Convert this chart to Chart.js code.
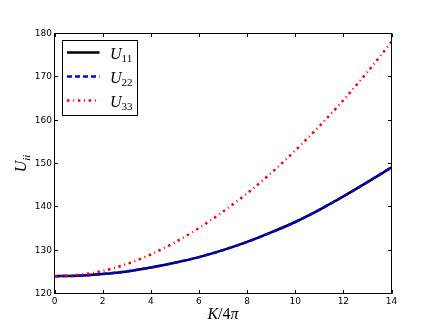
<!DOCTYPE html>
<html>
<head>
<meta charset="utf-8">
<script src="https://cdn.jsdelivr.net/npm/chart.js@4/dist/chart.umd.min.js"></script>
<style>
html,body{margin:0;padding:0;background:#fff;}
#wrap{width:436px;height:327px;position:relative;}
</style>
</head>
<body>
<div id="wrap"><canvas id="c" width="436" height="327"></canvas></div>
<script>
// ---- data ----
const kValues = [0, 1, 2, 3, 4, 5, 6, 7, 8, 9, 10, 11, 12, 13, 14];
const u11 = [124.0, 124.1, 124.5, 125.1, 126.0, 127.1, 128.4, 130.0, 131.9, 134.1, 136.5, 139.3, 142.4, 145.7, 149.1];
const u22 = [124.0, 124.1, 124.5, 125.1, 126.0, 127.1, 128.4, 130.0, 131.9, 134.1, 136.5, 139.3, 142.4, 145.7, 149.1];
const u33 = [124.0, 124.3, 125.2, 126.8, 129.0, 131.8, 135.1, 138.9, 143.1, 147.8, 153.0, 158.6, 164.6, 171.1, 178.1];
const xTicks = [0, 2, 4, 6, 8, 10, 12, 14];
const yTicks = [120, 130, 140, 150, 160, 170, 180];
const seriesNames = ["11", "22", "33"];
const xTitle = ["K", "/4", "π"];
const yTitle = ["U", "ii"];

const pts = (ys) => kValues.map((k, i) => ({x: k, y: ys[i]}));

const SERIF = '"Liberation Serif", "DejaVu Serif", serif';

const framePlugin = {
  id: 'frame',
  afterDraw(chart) {
    const ctx = chart.ctx;
    const a = chart.chartArea;
    const xs = chart.scales.x, ys = chart.scales.y;
    ctx.save();
    ctx.strokeStyle = '#000';
    ctx.lineWidth = 1;
    ctx.strokeRect(a.left, a.top, a.right - a.left, a.bottom - a.top);
    // inward ticks on all sides
    const tl = 3.5;
    ctx.beginPath();
    xTicks.forEach(v => {
      const px = Math.round(xs.getPixelForValue(v)) + 0.5;
      ctx.moveTo(px, a.bottom); ctx.lineTo(px, a.bottom - tl);
      ctx.moveTo(px, a.top); ctx.lineTo(px, a.top + tl);
    });
    yTicks.forEach(v => {
      const py = Math.round(ys.getPixelForValue(v) - 0.5) + 0.5;
      ctx.moveTo(a.left, py); ctx.lineTo(a.left + tl, py);
      ctx.moveTo(a.right, py); ctx.lineTo(a.right - tl, py);
    });
    ctx.stroke();

    // x title
    ctx.fillStyle = '#000';
    ctx.textBaseline = 'alphabetic';
    const fonts = ['italic 16px ' + SERIF, '16px ' + SERIF, 'italic 16px ' + SERIF];
    let widths = xTitle.map((t, i) => { ctx.font = fonts[i]; return ctx.measureText(t).width; });
    const total = widths.reduce((s, w) => s + w, 0);
    let x0 = (a.left + a.right) / 2 - total / 2;
    xTitle.forEach((t, i) => { ctx.font = fonts[i]; ctx.textAlign = 'left'; ctx.fillText(t, x0, 319); x0 += widths[i]; });

    // y title (rotated)
    ctx.save();
    ctx.translate(26, (a.top + a.bottom) / 2);
    ctx.rotate(-Math.PI / 2);
    ctx.font = 'italic 16px ' + SERIF;
    const wU = ctx.measureText(yTitle[0]).width;
    ctx.font = 'italic 11px ' + SERIF;
    const wS = ctx.measureText(yTitle[1]).width;
    const st = -(wU + wS) / 2;
    ctx.font = 'italic 16px ' + SERIF;
    ctx.fillText(yTitle[0], st, 0);
    ctx.font = 'italic 11px ' + SERIF;
    ctx.fillText(yTitle[1], st + wU, 3.5);
    ctx.restore();

    // legend
    const lx = 62.5, ly = 40.5, lw = 75, lh = 75;
    ctx.fillStyle = '#fff';
    ctx.fillRect(lx, ly, lw, lh);
    ctx.strokeStyle = '#000';
    ctx.lineWidth = 1;
    ctx.strokeRect(lx, ly, lw, lh);
    const rows = [52.5, 76.5, 100.5];
    chart.data.datasets.forEach((ds, i) => {
      const y = rows[i];
      ctx.save();
      ctx.strokeStyle = ds.borderColor;
      ctx.lineWidth = ds.borderWidth;
      ctx.setLineDash(ds.borderDash || []);
      ctx.beginPath();
      ctx.moveTo(67, y); ctx.lineTo(99.5, y);
      ctx.stroke();
      ctx.restore();
      ctx.fillStyle = '#000';
      ctx.font = 'italic 16px ' + SERIF;
      ctx.fillText('U', 110, y + 6.5);
      const w = ctx.measureText('U').width;
      ctx.font = '11px ' + SERIF;
      ctx.fillText(seriesNames[i], 110 + w, y + 9.8);
    });
    ctx.restore();
  }
};

new Chart(document.getElementById('c'), {
  type: 'line',
  data: {
    datasets: [
      {label: 'U11', order: 3, data: pts(u11), borderColor: '#000000', borderWidth: 2.5, pointRadius: 0, cubicInterpolationMode: 'monotone', fill: false},
      {label: 'U22', order: 2, data: pts(u22), borderColor: '#0000ff', borderWidth: 2.5, borderDash: [5, 3], borderCapStyle: 'butt', pointRadius: 0, cubicInterpolationMode: 'monotone', fill: false},
      {label: 'U33', order: 1, data: pts(u33), borderColor: '#ff0000', borderWidth: 2.5, borderDash: [2.5, 3.7, 1, 3.6], borderCapStyle: 'butt', pointRadius: 0, cubicInterpolationMode: 'monotone', fill: false}
    ]
  },
  options: {
    responsive: false,
    animation: false,
    devicePixelRatio: 1,
    layout: {padding: {top: 33.5, right: 44.5, left: 0, bottom: 0}},
    plugins: {legend: {display: false}, tooltip: {enabled: false}},
    scales: {
      x: {
        type: 'linear', min: xTicks[0], max: xTicks[xTicks.length - 1],
        afterFit: s => { s.height = 33.5; },
        afterBuildTicks: s => { s.ticks = xTicks.map(v => ({value: v})); },
        grid: {display: false, drawTicks: false},
        border: {display: false},
        ticks: {padding: 2.5, color: '#000', font: {family: '"DejaVu Sans"', size: 9}, maxRotation: 0, autoSkip: false}
      },
      y: {
        type: 'linear', min: yTicks[0], max: yTicks[yTicks.length - 1],
        afterFit: s => { s.width = 54.5; },
        afterBuildTicks: s => { s.ticks = yTicks.map(v => ({value: v})); },
        grid: {display: false, drawTicks: false},
        border: {display: false},
        ticks: {padding: 2.5, color: '#000', font: {family: '"DejaVu Sans"', size: 9}, autoSkip: false}
      }
    }
  },
  plugins: [framePlugin]
});
</script>
</body>
</html>
